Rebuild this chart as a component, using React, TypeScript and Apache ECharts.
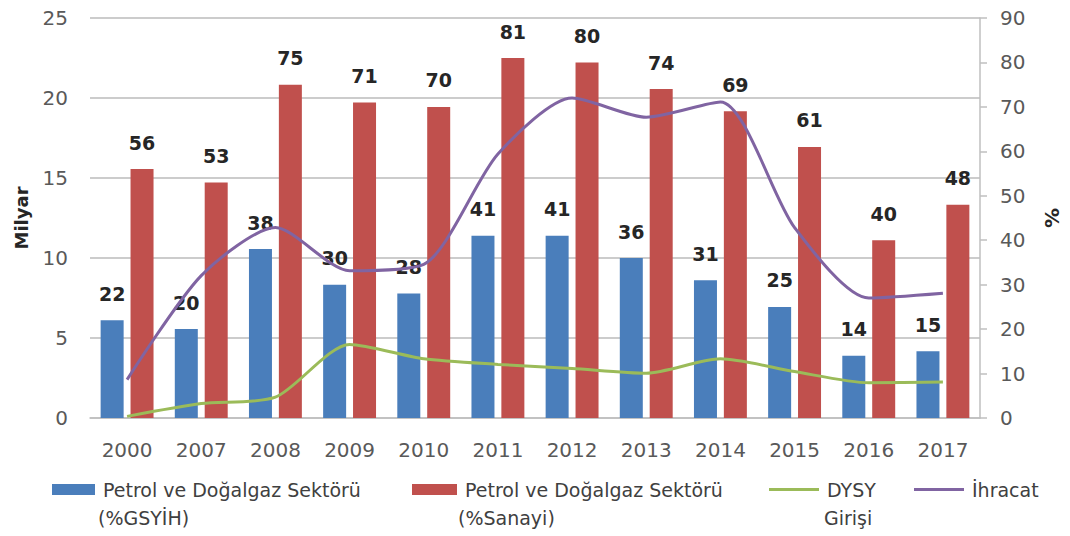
import React, { useEffect, useRef } from "react";
import * as echarts from "echarts";

const categories = ["2000", "2007", "2008", "2009", "2010", "2011", "2012", "2013", "2014", "2015", "2016", "2017"];
const gsyihShare = [22, 20, 38, 30, 28, 41, 41, 36, 31, 25, 14, 15];
const sanayiShare = [56, 53, 75, 71, 70, 81, 80, 74, 69, 61, 40, 48];
const dysyGirisi = [0.1, 0.9, 1.3, 4.6, 3.7, 3.35, 3.1, 2.8, 3.7, 2.9, 2.2, 2.25];
const ihracat = [2.4, 8.9, 11.9, 9.2, 9.6, 16.5, 20.0, 18.8, 19.75, 11.9, 7.5, 7.8];
const leftTicks = { min: 0, max: 25, interval: 5 };
const rightTicks = { min: 0, max: 90, interval: 10 };

const FONT = "'DejaVu Sans', 'Liberation Sans', sans-serif";
const BLUE = "#4a7ebb";
const RED = "#c0504d";
const GREEN = "#9bbb59";
const PURPLE = "#8064a2";
const AXIS_TXT = "#595959";
const LEG_TXT = "#404040";

const N1 = "Petrol ve Doğalgaz Sektörü (%GSYİH)";
const N2 = "Petrol ve Doğalgaz Sektörü (%Sanayi)";
const N3 = "DYSY Girişi";
const N4 = "İhracat";

export default function App() {
  const ref = useRef<HTMLDivElement>(null);
  useEffect(() => {
    if (!ref.current) return;
    const chart = echarts.init(ref.current, null, { renderer: "svg" });
    const legendText = { color: LEG_TXT, fontSize: 19, fontFamily: FONT, padding: [0, 0, 0, 3] };
    const barLabel = {
      show: true,
      position: "top" as const,
      distance: 17,
      color: "#262626",
      fontWeight: "bold" as const,
      fontSize: 19,
      fontFamily: FONT,
    };
    chart.setOption({
      animation: false,
      backgroundColor: "#ffffff",
      grid: { left: 90, right: 88, top: 18, bottom: 118, containLabel: false },
      xAxis: {
        type: "category",
        data: categories,
        axisLine: { show: true, lineStyle: { color: "#bfbfbf", width: 1.5 } },
        axisTick: { show: false },
        axisLabel: { color: AXIS_TXT, fontSize: 20, fontFamily: FONT, margin: 22 },
      },
      yAxis: [
        {
          type: "value",
          ...leftTicks,
          position: "left",
          name: "Milyar",
          nameLocation: "middle",
          nameGap: 60,
          nameRotate: 90,
          nameTextStyle: { color: "#262626", fontSize: 18, fontWeight: "bold", fontFamily: FONT },
          axisLine: { show: false },
          axisTick: { show: false },
          axisLabel: { color: AXIS_TXT, fontSize: 20, fontFamily: FONT, margin: 22 },
          splitLine: { show: true, lineStyle: { color: "#cccccc", width: 2 } },
        },
        {
          type: "value",
          ...rightTicks,
          position: "right",
          name: "%",
          nameLocation: "middle",
          nameGap: 62,
          nameRotate: 90,
          nameTextStyle: { color: "#262626", fontSize: 20, fontWeight: "bold", fontFamily: FONT },
          axisLine: { show: true, lineStyle: { color: "#bfbfbf", width: 1.5 } },
          axisTick: { show: true, inside: false, length: 7, lineStyle: { color: "#bfbfbf", width: 1.5 } },
          axisLabel: { color: AXIS_TXT, fontSize: 20, fontFamily: FONT, margin: 20 },
          splitLine: { show: false },
        },
      ],
      legend: [
        {
          data: [N1], left: 47, top: 475, icon: "rect", itemWidth: 43, itemHeight: 11,
          selectedMode: false, textStyle: legendText, formatter: () => "Petrol ve Doğalgaz Sektörü",
        },
        {
          data: [N2], left: 407, top: 475, icon: "rect", itemWidth: 45, itemHeight: 11,
          selectedMode: false, textStyle: legendText, formatter: () => "Petrol ve Doğalgaz Sektörü",
        },
        {
          data: [N3], left: 764, top: 475, icon: "rect", itemWidth: 50, itemHeight: 3,
          selectedMode: false, textStyle: legendText, formatter: () => "DYSY",
        },
        {
          data: [N4], left: 909, top: 475, icon: "rect", itemWidth: 50, itemHeight: 3,
          selectedMode: false, textStyle: legendText, formatter: () => "İhracat",
        },
      ],
      graphic: [
        { type: "text", left: 98, top: 508, style: { text: "(%GSYİH)", fill: LEG_TXT, font: `19px ${FONT}` } },
        { type: "text", left: 458, top: 508, style: { text: "(%Sanayi)", fill: LEG_TXT, font: `19px ${FONT}` } },
        { type: "text", left: 824, top: 508, style: { text: "Girişi", fill: LEG_TXT, font: `19px ${FONT}` } },
      ],
      series: [
        {
          name: N1, type: "bar", yAxisIndex: 1, data: gsyihShare, barWidth: 23, barGap: "30%",
          itemStyle: { color: BLUE }, label: barLabel, z: 2,
        },
        {
          name: N2, type: "bar", yAxisIndex: 1, data: sanayiShare, barWidth: 23, barGap: "30%",
          itemStyle: { color: RED }, label: barLabel, z: 2,
        },
        {
          name: N3, type: "line", yAxisIndex: 0, data: dysyGirisi, smooth: 0.25, showSymbol: false,
          lineStyle: { color: GREEN, width: 3 }, itemStyle: { color: GREEN }, z: 3,
        },
        {
          name: N4, type: "line", yAxisIndex: 0, data: ihracat, smooth: 0.25, showSymbol: false,
          lineStyle: { color: PURPLE, width: 3 }, itemStyle: { color: PURPLE }, z: 3,
        },
      ],
    });
    return () => chart.dispose();
  }, []);
  return (
    <div
      ref={ref}
      style={{ position: "fixed", left: 0, top: 0, width: 1070, height: 536, background: "#fff" }}
    />
  );
}
